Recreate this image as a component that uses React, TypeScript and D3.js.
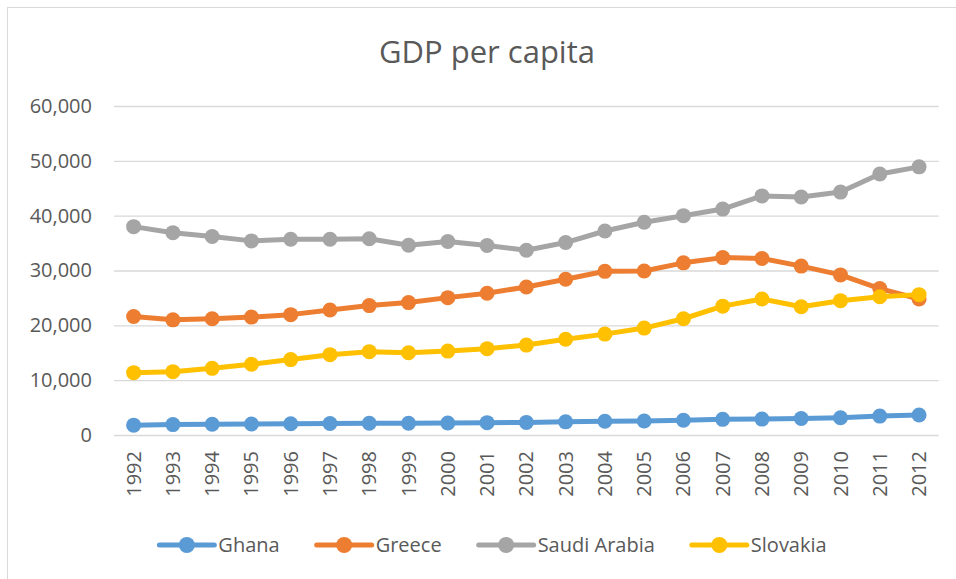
import React, { useEffect, useRef } from "react";
import * as d3 from "d3";

const years = [
  "1992", "1993", "1994", "1995", "1996", "1997", "1998", "1999", "2000", "2001", "2002",
  "2003", "2004", "2005", "2006", "2007", "2008", "2009", "2010", "2011", "2012"
];

const ghana = [1800, 1900, 1950, 2000, 2050, 2100, 2150, 2150, 2200, 2250, 2300, 2400, 2500, 2550, 2700, 2850, 2900, 3000, 3150, 3450, 3650];
const greece = [21600, 21000, 21200, 21500, 21950, 22800, 23600, 24150, 25050, 25850, 27000, 28400, 29850, 29900, 31400, 32350, 32200, 30800, 29200, 26700, 24800];
const saudiArabia = [38000, 36900, 36200, 35400, 35700, 35700, 35800, 34600, 35300, 34550, 33700, 35100, 37200, 38800, 40000, 41200, 43600, 43400, 44300, 47600, 48900];
const slovakia = [11370, 11550, 12160, 12900, 13750, 14650, 15200, 15000, 15300, 15750, 16400, 17450, 18400, 19500, 21200, 23500, 24800, 23400, 24500, 25200, 25600];

const yTicks = [0, 10000, 20000, 30000, 40000, 50000, 60000];

const seriesNames = ["Ghana", "Greece", "Saudi Arabia", "Slovakia"];
const seriesValues = [ghana, greece, saudiArabia, slovakia];
const colors = ["#5B9BD5", "#ED7D31", "#A5A5A5", "#FFC000"];

const W = 956;
const H = 579;
const FONT = "'Open Sans', 'Liberation Sans', sans-serif";

function LineChart() {
  const svgRef = useRef<SVGSVGElement>(null);

  useEffect(() => {
    const svg = d3.select(svgRef.current);
    svg.selectAll("*").remove();

    // scales
    const x = d3.scaleBand().domain(years).range([114, 938.7]);
    const y = d3.scaleLinear().domain([0, 60000]).range([435, 106]);
    const cx = (d: string) => (x(d) as number) + x.bandwidth() / 2;

    // chart border
    svg
      .append("rect")
      .attr("x", 7.5)
      .attr("y", 7.5)
      .attr("width", 980)
      .attr("height", 620)
      .attr("fill", "#fff")
      .attr("stroke", "#D9D9D9");

    // title
    svg
      .append("text")
      .attr("x", 487)
      .attr("y", 63)
      .attr("text-anchor", "middle")
      .attr("font-family", FONT)
      .attr("font-size", 31)
      .attr("fill", "#595959")
      .text("GDP per capita");

    // y axis + gridlines
    const yAxis = d3
      .axisLeft(y)
      .tickValues(yTicks)
      .tickSize(-(938.7 - 114))
      .tickPadding(22)
      .tickFormat(d3.format(","));
    const yg = svg.append("g").attr("transform", "translate(114,0)").call(yAxis);
    yg.select(".domain").remove();
    yg.selectAll(".tick line").attr("stroke", "#D9D9D9").attr("stroke-width", 1.3);
    yg.selectAll(".tick text")
      .attr("font-family", FONT)
      .attr("font-size", 20)
      .attr("fill", "#595959");

    // x axis (rotated year labels)
    const xAxis = d3.axisBottom(x).tickSize(0).tickPadding(0);
    const xg = svg.append("g").attr("transform", "translate(0,435)").call(xAxis);
    xg.select(".domain").remove();
    xg.selectAll(".tick text")
      .attr("font-family", FONT)
      .attr("font-size", 20)
      .attr("fill", "#595959")
      .attr("text-anchor", "end")
      .attr("dy", "0.35em")
      .attr("transform", "translate(0,16) rotate(-90)");

    // lines + markers
    const line = d3
      .line<number>()
      .x((_, i) => cx(years[i]))
      .y((d) => y(d));

    seriesValues.forEach((vals, si) => {
      const g = svg.append("g");
      g.append("path")
        .datum(vals)
        .attr("d", line)
        .attr("fill", "none")
        .attr("stroke", colors[si])
        .attr("stroke-width", 5)
        .attr("stroke-linejoin", "round")
        .attr("stroke-linecap", "round");
      g.selectAll("circle")
        .data(vals)
        .join("circle")
        .attr("cx", (_, i) => cx(years[i]))
        .attr("cy", (d) => y(d))
        .attr("r", 7.5)
        .attr("fill", colors[si]);
    });

    // legend
    const legend = svg.append("g");
    const items = legend
      .selectAll("g")
      .data(seriesNames)
      .join("g");
    items
      .append("line")
      .attr("x1", 0)
      .attr("x2", 55)
      .attr("y1", 0)
      .attr("y2", 0)
      .attr("stroke", (_, i) => colors[i])
      .attr("stroke-width", 5)
      .attr("stroke-linecap", "round");
    items
      .append("circle")
      .attr("cx", 27.5)
      .attr("cy", 0)
      .attr("r", 8)
      .attr("fill", (_, i) => colors[i]);
    items
      .append("text")
      .attr("x", 59)
      .attr("dy", "0.35em")
      .attr("font-family", FONT)
      .attr("font-size", 20)
      .attr("fill", "#595959")
      .text((d) => d);

    const widths: number[] = [];
    items.each(function () {
      const t = d3.select(this).select("text").node() as SVGTextElement;
      widths.push(59 + t.getComputedTextLength());
    });
    const gap = 37;
    const total = d3.sum(widths) + gap * (widths.length - 1);
    let pos = 493 - total / 2;
    items.attr("transform", (_, i) => {
      const t = `translate(${pos},545)`;
      pos += widths[i] + gap;
      return t;
    });
  }, []);

  return (
    <svg
      ref={svgRef}
      width={W}
      height={H}
      style={{ position: "absolute", left: 0, top: 0, background: "#fff" }}
    />
  );
}

export default function App() {
  return <LineChart />;
}
